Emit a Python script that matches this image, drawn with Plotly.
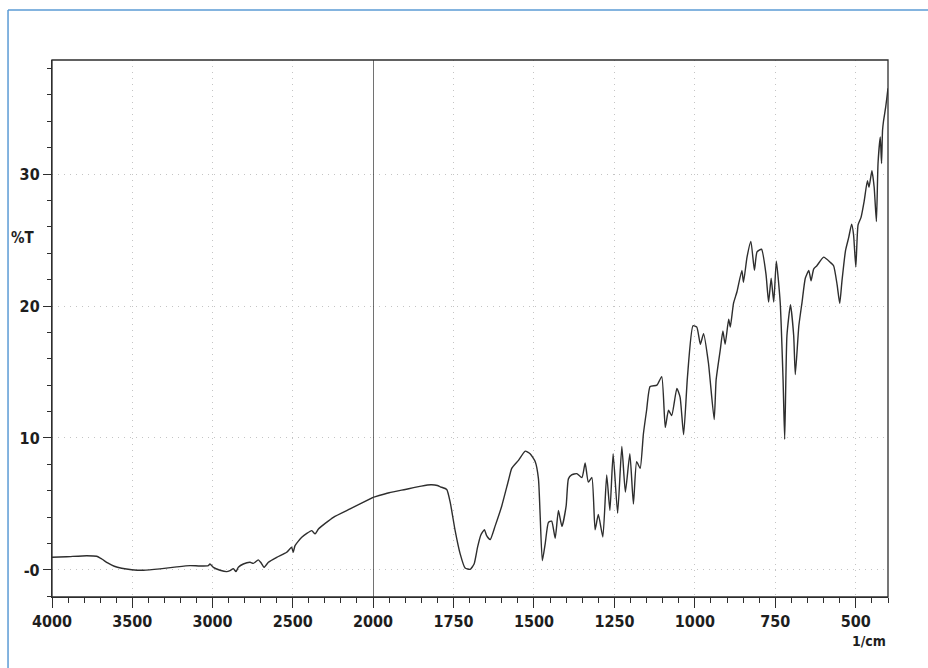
import plotly.graph_objects as go

# IR transmission spectrum; wavenumbers in 1/cm, transmittance in %T
# High-wavenumber segment (4000-2000, compressed scale)
wn_hi = [4000, 3908, 3784, 3722, 3690, 3653, 3612, 3566, 3503, 3430, 3327, 3223,
         3140, 3078, 3026, 3016, 2995, 2953, 2912, 2891, 2870, 2854, 2839, 2808,
         2766, 2746, 2715, 2700, 2679, 2652, 2600, 2538, 2507, 2497, 2486, 2444,
         2382, 2361, 2340, 2247, 2143, 2081, 2000]
t_hi = [0.96, 1.0, 1.08, 1.04, 0.83, 0.53, 0.28, 0.13, 0.02, -0.02, 0.08, 0.23,
        0.33, 0.30, 0.33, 0.45, 0.20, -0.02, -0.13, -0.05, 0.10, -0.13, 0.20, 0.45,
        0.58, 0.50, 0.76, 0.58, 0.20, 0.58, 0.96, 1.34, 1.72, 1.34, 1.84, 2.48,
        2.98, 2.73, 3.10, 3.99, 4.62, 5.00, 5.50]

# Low-wavenumber segment (2000-400, expanded scale)
wn_lo = [2000, 1950, 1900, 1850, 1820, 1800, 1791, 1771, 1760, 1745, 1729, 1714,
         1698, 1686, 1675, 1665, 1654, 1647, 1636, 1621, 1600, 1579, 1569, 1548,
         1527, 1512, 1496, 1486, 1481, 1474, 1465, 1455, 1445, 1434, 1424, 1413,
         1400, 1393, 1383, 1367, 1351, 1341, 1331, 1320, 1310, 1300, 1286, 1274,
         1264, 1254, 1240, 1227, 1216, 1202, 1191, 1181, 1170, 1160, 1150, 1139,
         1118, 1103, 1092, 1082, 1072, 1056, 1046, 1035, 1023, 1006, 994, 983,
         973, 958, 940, 934, 921, 913, 906, 895, 890, 880, 869, 854, 849, 838,
         826, 815, 807, 793, 779, 771, 763, 755, 747, 735, 726, 721, 714, 703,
         693, 688, 677, 667, 657, 646, 639, 631, 621, 600, 579, 569, 558, 550,
         543, 532, 522, 513, 507, 500, 493, 484, 474, 464, 459, 450, 443, 436,
         431, 424, 420, 417, 414, 407, 401, 400]
t_lo = [5.50, 5.85, 6.10, 6.35, 6.45, 6.40, 6.30, 6.10, 5.10, 3.00, 1.20, 0.15,
        0.05, 0.45, 1.75, 2.65, 3.05, 2.60, 2.30, 3.30, 4.85, 6.80, 7.70, 8.30,
        9.00, 8.80, 8.20, 6.90, 4.30, 0.70, 2.00, 3.60, 3.70, 2.40, 4.50, 3.30,
        4.85, 6.90, 7.20, 7.30, 7.00, 8.10, 6.65, 7.00, 3.05, 4.20, 2.50, 7.20,
        4.50, 8.80, 4.30, 9.35, 5.90, 8.80, 5.00, 8.20, 7.70, 10.30, 12.10, 13.90,
        14.00, 14.65, 10.80, 12.10, 11.70, 13.75, 13.10, 10.25, 14.65, 18.50, 18.40, 17.10,
        17.90, 15.70, 11.40, 14.40, 16.70, 18.10, 17.10, 19.00, 18.40, 20.20, 21.10, 22.70,
        21.80, 23.70, 24.90, 22.70, 24.10, 24.30, 22.40, 20.30, 22.10, 20.30, 23.40, 20.30,
        14.40, 9.90, 17.75, 20.10, 17.75, 14.80, 18.50, 20.30, 22.10, 22.70, 21.90, 22.80,
        23.05, 23.70, 23.30, 23.05, 21.60, 20.20, 21.90, 24.20, 25.20, 26.20, 25.40, 22.95,
        26.15, 26.70, 27.95, 29.50, 29.00, 30.25, 29.00, 26.40, 30.80, 32.80, 30.80, 33.30,
        34.00, 35.10, 36.30, 36.50]

x_ticks_hi = [4000, 3500, 3000, 2500, 2000]
x_ticks_lo = [1750, 1500, 1250, 1000, 750, 500]
y_ticks = [0, 10, 20, 30]
y_tick_text = ["-0", "10", "20", "30"]

INK = "#2e2e2e"
GRID = "#c4c4c4"
GRID_DASH = "1px,5px"
FONT = dict(family="DejaVu Sans Condensed, Liberation Sans, Arial", size=16, color="#1e1e1e", weight="bold")
SPLIT = 0.384  # share of the plot width given to 4000-2000

fig = go.Figure()
fig.add_trace(go.Scatter(x=wn_hi, y=t_hi, xaxis="x", yaxis="y", mode="lines",
                         line=dict(color=INK, width=1.4, shape="spline", smoothing=0.5),
                         hoverinfo="x+y", showlegend=False))
fig.add_trace(go.Scatter(x=wn_lo, y=t_lo, xaxis="x2", yaxis="y2", mode="lines",
                         line=dict(color=INK, width=1.4, shape="spline", smoothing=0.5),
                         hoverinfo="x+y", showlegend=False))

common_x = dict(ticks="outside", ticklen=10, tickwidth=1, tickcolor=INK,
                showgrid=True, gridcolor=GRID, griddash=GRID_DASH, gridwidth=1,
                showline=True, linecolor=INK, linewidth=1.3, zeroline=False,
                tickfont=FONT, tickmode="array")

fig.update_layout(
    width=928, height=668,
    margin=dict(l=52, r=40, t=60, b=71),
    paper_bgcolor="white", plot_bgcolor="white",
    xaxis=dict(domain=[0, SPLIT], range=[4000, 2000], tickvals=x_ticks_hi, anchor="y",
               minor=dict(dtick=100, tick0=0, ticks="outside", ticklen=5, tickcolor=INK, showgrid=False),
               **common_x),
    xaxis2=dict(domain=[SPLIT, 1], range=[2000, 400], tickvals=x_ticks_lo, anchor="y2",
                minor=dict(dtick=50, tick0=0, ticks="outside", ticklen=5, tickcolor=INK, showgrid=False),
                **common_x),
    yaxis=dict(range=[-2.05, 38.64], anchor="x", tickmode="array", tickvals=y_ticks, ticktext=y_tick_text,
               ticks="outside", ticklen=8, tickcolor=INK, tickfont=FONT,
               minor=dict(dtick=2, tick0=0, ticks="outside", ticklen=4, tickcolor=INK, showgrid=False),
               showgrid=True, gridcolor=GRID, griddash=GRID_DASH, zeroline=False,
               showline=True, linecolor=INK, linewidth=1.3),
    yaxis2=dict(range=[-2.05, 38.64], anchor="x2", matches="y", showticklabels=False, ticks="",
                tickmode="array", tickvals=y_ticks,
                showgrid=True, gridcolor=GRID, griddash=GRID_DASH, zeroline=False, showline=False),
    shapes=[
        # plot frame
        dict(type="rect", xref="paper", yref="paper", x0=0, x1=1, y0=0, y1=1,
             line=dict(color=INK, width=1.3), layer="above"),
        # scale change at 2000 1/cm
        dict(type="line", xref="x2", yref="paper", x0=2000, x1=2000, y0=0, y1=1,
             line=dict(color=INK, width=1.3), layer="above"),
        # page border
        dict(type="line", xref="paper", yref="paper", x0=-0.0526, x1=-0.0526, y0=-0.14, y1=1.093,
             line=dict(color="#5b9bd5", width=1.5)),
        dict(type="line", xref="paper", yref="paper", x0=-0.0526, x1=1.06, y0=1.093, y1=1.093,
             line=dict(color="#5b9bd5", width=1.5)),
    ],
    annotations=[
        dict(text="%T", xref="paper", yref="paper", x=-0.035, y=0.668, showarrow=False,
             xanchor="center", yanchor="middle", font=dict(**{**FONT, "size": 15})),
        dict(text="1/cm", xref="paper", yref="paper", x=1.0, y=-0.063, showarrow=False,
             xanchor="right", yanchor="top", font=dict(**{**FONT, "size": 14})),
    ],
)

fig.write_html("out.html")
